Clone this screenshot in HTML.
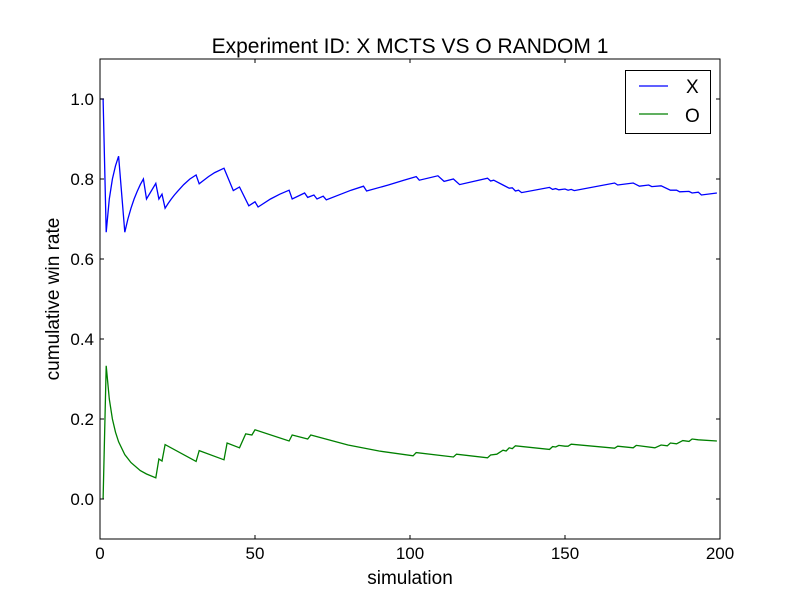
<!DOCTYPE html>
<html><head><meta charset="utf-8"><style>
html,body{margin:0;padding:0;background:#fff;}
svg text{font-family:"Liberation Sans","DejaVu Sans",sans-serif;fill:#000;}
</style></head><body>
<svg id="chart" width="800" height="600" viewBox="0 0 800 600" xmlns="http://www.w3.org/2000/svg">
<rect width="800" height="600" fill="#fff"/>
<text x="410" y="53" font-size="21" text-anchor="middle">Experiment ID: X MCTS VS O RANDOM 1</text>
<g id="plot"></g>
<text x="410" y="584" font-size="19" text-anchor="middle">simulation</text>
<text transform="translate(59,299) rotate(-90)" font-size="19" text-anchor="middle">cumulative win rate</text>
<g>
<rect x="625.5" y="70.5" width="85" height="63" fill="#fff" stroke="#000" stroke-width="1"/>
<line x1="639" y1="86" x2="668" y2="86" stroke="#0000ff" stroke-width="1.3"/>
<text x="686" y="93" font-size="19">X</text>
<line x1="639" y1="114" x2="668" y2="114" stroke="#008000" stroke-width="1.3"/>
<text x="685" y="122" font-size="19">O</text>
</g>
</svg>
<script>
const xSim = [0,1,2,3,4,5,6,8,9,10,11,12,13,14,15,18,19,20,21,22,23,24,25,27,29,31,32,33,35,37,40,43,45,48,50,51,55,58,61,62,66,67,69,70,72,73,78,81,85,86,93,98,102,103,109,111,114,116,125,126,127,130,132,133,134,135,136,145,146,147,148,150,151,152,153,166,167,172,174,177,178,181,184,186,187,190,191,193,194,199];
const xRate = [1.0,1.0,0.667,0.75,0.8,0.833,0.857,0.667,0.7,0.727,0.75,0.769,0.786,0.8,0.75,0.789,0.75,0.762,0.727,0.739,0.75,0.76,0.769,0.786,0.8,0.81,0.788,0.794,0.806,0.816,0.827,0.771,0.78,0.733,0.743,0.73,0.75,0.762,0.772,0.75,0.765,0.754,0.76,0.75,0.757,0.748,0.763,0.772,0.782,0.77,0.785,0.797,0.806,0.797,0.808,0.794,0.8,0.786,0.802,0.795,0.797,0.785,0.777,0.778,0.77,0.772,0.766,0.779,0.774,0.776,0.773,0.775,0.772,0.774,0.771,0.79,0.785,0.79,0.782,0.785,0.781,0.783,0.772,0.772,0.768,0.769,0.765,0.767,0.76,0.765];
const oSim = [1,2,3,4,5,6,8,10,13,15,18,19,20,21,31,32,40,41,45,47,49,50,61,62,67,68,80,90,101,102,114,115,125,126,128,130,131,132,133,134,145,146,147,148,150,151,152,166,167,172,173,179,181,183,184,186,188,190,191,193,199];
const oRate = [0,0.333,0.25,0.2,0.167,0.143,0.111,0.091,0.071,0.0625,0.053,0.1,0.095,0.136,0.094,0.121,0.098,0.14,0.128,0.163,0.16,0.173,0.145,0.16,0.15,0.16,0.135,0.12,0.108,0.116,0.105,0.112,0.103,0.11,0.112,0.122,0.12,0.128,0.126,0.133,0.124,0.131,0.13,0.134,0.132,0.132,0.137,0.127,0.132,0.128,0.134,0.128,0.135,0.133,0.14,0.138,0.146,0.144,0.15,0.148,0.145];
const xTicks = [0,50,100,150,200];
const yTicks = [0.0,0.2,0.4,0.6,0.8,1.0];
const yTickLabels = ["0.0","0.2","0.4","0.6","0.8","1.0"];

const L=100,R=720,T=59,B=539,xMin=0,xMax=200,yMin=-0.1,yMax=1.1;
const sx=v=>L+(v-xMin)/(xMax-xMin)*(R-L);
const sy=v=>B-(v-yMin)/(yMax-yMin)*(B-T);
const NS="http://www.w3.org/2000/svg";
const g=document.getElementById('plot');
function mk(tag,attrs){const e=document.createElementNS(NS,tag);for(const k in attrs)e.setAttribute(k,attrs[k]);g.appendChild(e);return e;}

function series(xs,ys,color,name){
  const p=mk('polyline',{points:xs.map((x,i)=>sx(x).toFixed(2)+','+sy(ys[i]).toFixed(2)).join(' '),fill:'none',stroke:color,'stroke-width':1.3,'stroke-linejoin':'miter'});
  
  
}
series(xSim,xRate,'#0000ff','x-win-rate-line');
series(oSim,oRate,'#008000','o-win-rate-line');

const frame=mk('rect',{x:L,y:T,width:R-L,height:B-T,fill:'none',stroke:'#000','stroke-width':1});



xTicks.forEach(v=>{
  const x=sx(v);
  const t1=mk('line',{x1:x,y1:B,x2:x,y2:B-4,stroke:'#000'});
  
  
  const t2=mk('line',{x1:x,y1:T,x2:x,y2:T+4,stroke:'#000'});
  
  
  const tx=mk('text',{x:x,y:B+20,'font-size':17,'text-anchor':'middle'});
  tx.textContent=String(v);
  
  
});
yTicks.forEach((v,i)=>{
  const y=sy(v);
  const t1=mk('line',{x1:L,y1:y,x2:L+4,y2:y,stroke:'#000'});
  
  
  const t2=mk('line',{x1:R,y1:y,x2:R-4,y2:y,stroke:'#000'});
  
  
  const tx=mk('text',{x:L-6,y:y+6,'font-size':17,'text-anchor':'end'});
  tx.textContent=yTickLabels[i];
  
  
});
</script>
</body></html>
